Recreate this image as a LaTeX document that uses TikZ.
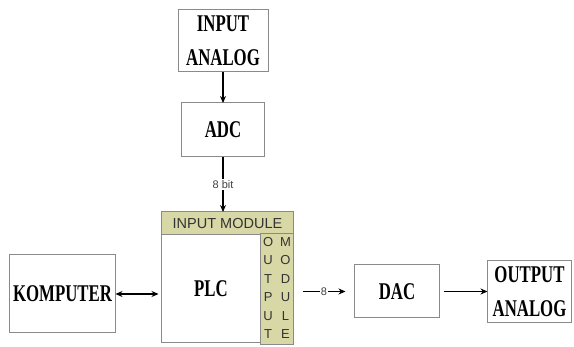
\documentclass[tikz,border=0pt]{standalone}
\usepackage{fontspec}
\usepackage{tikz}
\usetikzlibrary{positioning,arrows.meta}
\newfontfamily\boxfont[FakeStretch=0.7]{Liberation Serif}
\newfontfamily\modfont{Liberation Sans}
\definecolor{cModFill}{HTML}{D8D7A6}
\definecolor{cBoxLine}{HTML}{8A8A8A}

\begin{document}
\begin{tikzpicture}[
  x=1pt, y=1pt,
  every node/.style={inner sep=0pt, outer sep=0pt},
  block/.style={draw=cBoxLine, line width=1pt, fill=white, align=center,
                font=\boxfont\bfseries\fontsize{24}{34}\selectfont},
  module/.style={draw=cBoxLine, line width=1pt, fill=cModFill, text=black!80,
                 font=\modfont\fontsize{14.5}{17}\selectfont},
  arr/.style={-{Stealth[length=7pt, width=6pt]}, line width=1.3pt},
  dblarr/.style={{Stealth[length=7pt, width=6pt]}-{Stealth[length=7pt, width=6pt]}, line width=1.3pt},
  buslabel/.style={fill=white, inner sep=1pt, text=black!75, font=\modfont\fontsize{11}{12}\selectfont},
]
  \useasboundingbox (0,0) rectangle (574,-347);

  \node[block, minimum width=90pt, minimum height=62pt] (inana) at (223,-41) {INPUT\\ANALOG};
  \node[block, minimum width=83pt, minimum height=54pt, below=31pt of inana] (adc) {ADC};

  % PLC with its two modules
  \node[module, minimum width=132pt, minimum height=23pt, below=55pt of adc, xshift=4.5pt] (inmod) {INPUT MODULE};
  \node[block, minimum width=99pt, minimum height=108pt, below right=0pt and 0pt of inmod.south west] (plc) {PLC};
  \node[module, minimum width=33pt, minimum height=108pt, right=0pt of plc, font=\modfont\fontsize{13}{14}\selectfont] (outmod)
    {\renewcommand{\arraystretch}{1.32}%
     \begin{tabular}{@{}c@{\hspace{7pt}}c@{}}O&M\\U&O\\T&D\\P&U\\U&L\\T&E\end{tabular}};

  \node[block, minimum width=106pt, minimum height=78pt, left=46pt of plc, yshift=-5pt] (komp) {KOMPUTER};
  \node[block, minimum width=85pt, minimum height=53pt, right=61pt of outmod, yshift=-2.5pt] (dac) {DAC};
  \node[block, minimum width=84pt, minimum height=62pt, right=48pt of dac] (outana) {OUTPUT\\ANALOG};

  \draw[arr] (inana) -- (adc);
  \draw[arr] (adc.south) -- (adc.south |- inmod.north) node[buslabel, midway] {8 bit};
  \draw[dblarr, shorten >=3pt] (komp.east) -- (komp.east -| plc.west);
  \draw[arr, shorten <=9pt, shorten >=9pt] (outmod.east |- dac.west) -- (dac.west) node[buslabel, midway] {8};
  \draw[arr, shorten <=4pt] (dac) -- (outana);
\end{tikzpicture}
\end{document}
